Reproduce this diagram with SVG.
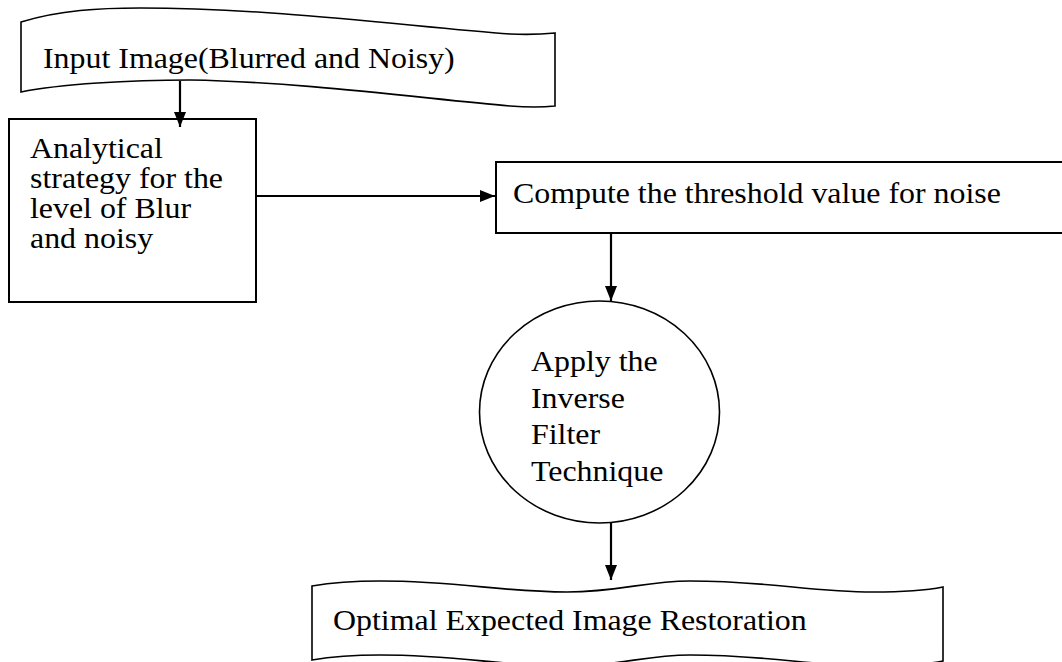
<svg xmlns="http://www.w3.org/2000/svg" width="1062" height="662" viewBox="0 0 1062 662">
  <style>
    .shape { fill: #ffffff; stroke: #000000; }
    .box { stroke-width: 2; }
    .tape { stroke-width: 1.6; }
    .oval { stroke-width: 1.6; }
    .label { font-family: "Liberation Serif", "Times New Roman", serif; font-size: 29px; fill: #000000; }
    .wire { fill: none; stroke: #000000; stroke-width: 2.2; }
  </style>
  <defs>
    <marker id="head" markerWidth="15" markerHeight="12" refX="15" refY="6" orient="auto" markerUnits="userSpaceOnUse">
      <path d="M0,0 L15,6 L0,12 Z" fill="#000000"/>
    </marker>
  </defs>
  <rect width="1062" height="662" fill="#ffffff"/>

  <!-- input: punched tape -->
  <g id="input">
    <path class="shape tape" d="M21,22 C60,10 100,8 140,8 C280,8 420,28 510,34 C530,35 545,34 555,33 L555,106 C545,107 530,107.5 510,106 C420,98 300,82 190,80 C130,80 60,84 21,92 Z"/>
    <text class="label" transform="matrix(1.1 0 0 1 43 68)">Input Image(Blurred and Noisy)</text>
  </g>

  <!-- analysis step -->
  <g id="analysis">
    <rect class="shape box" x="9" y="119" width="247" height="183"/>
    <text class="label" transform="matrix(1.1 0 0 1 30 158)">
      <tspan x="0" y="0">Analytical</tspan>
      <tspan x="0" y="30">strategy for the</tspan>
      <tspan x="0" y="60">level of Blur</tspan>
      <tspan x="0" y="90">and noisy</tspan>
    </text>
  </g>

  <!-- threshold step -->
  <g id="threshold">
    <rect class="shape box" x="496" y="162" width="580" height="71"/>
    <text class="label" transform="matrix(1.1 0 0 1 513 203)">Compute the threshold value for noise</text>
  </g>

  <!-- inverse filter step -->
  <g id="inverse-filter">
    <ellipse class="shape oval" cx="599.5" cy="412" rx="120" ry="111"/>
    <text class="label" transform="matrix(1.1 0 0 1 531 371)">
      <tspan x="0" y="0">Apply the</tspan>
      <tspan x="0" y="36.7">Inverse</tspan>
      <tspan x="0" y="73.4">Filter</tspan>
      <tspan x="0" y="110">Technique</tspan>
    </text>
  </g>

  <!-- output: punched tape -->
  <g id="output">
    <path class="shape tape" d="M312,586 C335,582 355,581 380,581 C460,581 500,592 567,592 C620,592 645,581 690,581 C770,581 810,592 873,592 C905,592 928,590 943,587 L943,661 C928,664 905,666 873,666 C810,666 770,655 690,655 C645,655 620,666 567,666 C500,666 460,655 380,655 C355,655 335,656 312,660 Z"/>
    <text class="label" transform="matrix(1.1 0 0 1 333 630)">Optimal Expected Image Restoration</text>
  </g>

  <!-- connectors -->
  <g id="connectors">
    <line class="wire" x1="180" y1="81" x2="180" y2="127" marker-end="url(#head)"/>
    <line class="wire" x1="256" y1="196" x2="495" y2="196" marker-end="url(#head)"/>
    <line class="wire" x1="611" y1="233" x2="611" y2="301" marker-end="url(#head)"/>
    <line class="wire" x1="611" y1="523" x2="611" y2="580" marker-end="url(#head)"/>
  </g>
</svg>
